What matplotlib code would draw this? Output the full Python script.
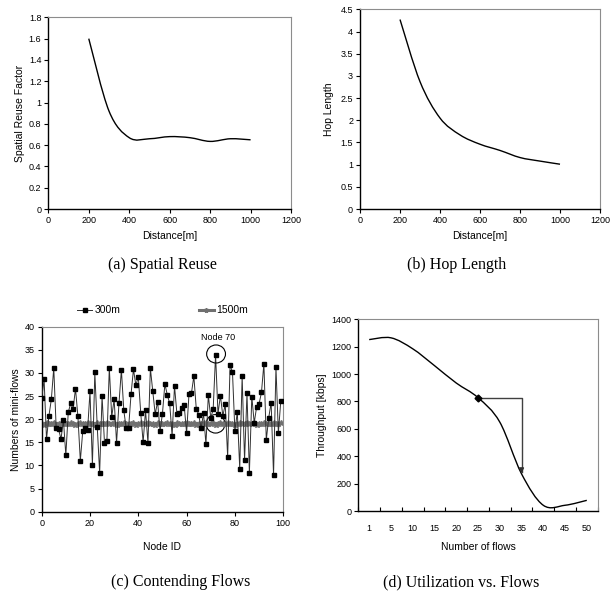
"""Four-panel figure: spatial reuse, hop length, contending flows, utilization."""

import matplotlib
matplotlib.use("Agg")
import matplotlib.pyplot as plt
import numpy as np
from matplotlib.path import Path
from matplotlib.patches import PathPatch, Ellipse

plt.rcParams["font.family"] = ["Liberation Sans", "DejaVu Sans"]
plt.rcParams["font.size"] = 6.5

TICK_FS = 6.5
LABEL_FS = 7.5

# (a) spatial reuse
dist = [200, 300, 400, 500, 600, 700, 800, 900, 1000]
reuse = [1.6, 0.92, 0.67, 0.66, 0.68, 0.67, 0.635, 0.66, 0.65]

# (b) hop length
hops = [4.27, 2.87, 2.05, 1.67, 1.46, 1.32, 1.16, 1.08, 1.01]

# (c) contending mini-flows per node
node_id = list(range(100))
flows_300 = [
    24.5, 28.6, 15.7, 20.7, 24.3, 31.1, 18.1, 17.8, 15.7, 19.8,
    12.2, 21.5, 23.4, 22.2, 26.6, 20.6, 11.0, 17.4, 18.0, 17.6,
    26.0, 10.1, 30.1, 18.4, 8.4, 25.0, 14.9, 15.3, 31.1, 20.5,
    24.3, 14.9, 23.4, 30.7, 21.9, 18.0, 18.2, 25.4, 30.8, 27.3,
    29.2, 21.4, 15.0, 21.9, 14.8, 31.0, 26.0, 21.1, 23.8, 17.4,
    21.2, 27.6, 25.3, 23.4, 16.4, 27.2, 21.1, 21.4, 22.4, 23.0,
    17.0, 25.5, 25.6, 29.3, 22.3, 21.0, 18.0, 21.3, 14.6, 25.2,
    20.3, 22.1, 33.9, 21.2, 25.1, 20.7, 23.2, 11.8, 31.8, 30.1,
    17.4, 21.6, 9.3, 29.3, 11.1, 25.6, 8.4, 24.9, 19.2, 22.7,
    23.3, 25.8, 32.0, 15.5, 20.3, 23.6, 7.9, 31.2, 17.0, 24.0,
]
flows_1500 = [
    19.0, 18.8, 19.1, 18.9, 19.0, 19.2, 18.8, 19.0, 18.9, 19.1,
    19.0, 18.9, 19.1, 19.0, 18.8, 19.0, 19.2, 18.9, 19.0, 19.1,
    18.9, 19.0, 18.8, 19.1, 19.0, 18.9, 19.0, 19.2, 18.9, 19.0,
    19.1, 18.8, 19.0, 18.9, 19.1, 19.0, 18.9, 19.0, 19.1, 18.8,
    19.0, 19.1, 18.9, 19.0, 19.2, 18.9, 19.0, 18.8, 19.1, 19.0,
    18.9, 19.0, 19.1, 18.9, 19.0, 18.8, 19.1, 19.0, 18.9, 19.0,
    19.2, 18.9, 19.0, 19.1, 18.8, 19.0, 18.9, 19.1, 19.0, 18.9,
    19.0, 19.1, 18.8, 19.0, 19.2, 18.9, 19.0, 19.1, 18.9, 19.0,
    18.8, 19.0, 19.1, 18.9, 19.0, 19.2, 18.9, 19.0, 19.1, 18.8,
    19.0, 18.9, 19.1, 19.0, 18.9, 19.0, 19.2, 18.9, 19.0, 19.1,
]

# (d) throughput vs number of flows (category axis)
flow_labels = ["1", "5", "10", "15", "20", "25", "30", "35", "40", "45", "50"]
throughput = [1252, 1265, 1185, 1062, 935, 828, 650, 272, 42, 42, 78]


def smooth_patch(x, y, **kw):
    """Excel-style smoothed line as a cubic Bezier path in data coords."""
    x = np.asarray(x, float)
    y = np.asarray(y, float)
    n = len(x)
    verts = [(x[0], y[0])]
    codes = [Path.MOVETO]
    for i in range(n - 1):
        i0 = max(i - 1, 0)
        i3 = min(i + 2, n - 1)
        c1 = (x[i] + (x[i + 1] - x[i0]) / 6, y[i] + (y[i + 1] - y[i0]) / 6)
        c2 = (x[i + 1] - (x[i3] - x[i]) / 6, y[i + 1] - (y[i3] - y[i]) / 6)
        verts += [c1, c2, (x[i + 1], y[i + 1])]
        codes += [Path.CURVE4] * 3
    return PathPatch(Path(verts, codes), fill=False, **kw)


def excel_axes(ax):
    for s in ("top", "right"):
        ax.spines[s].set_color("#8c8c8c")
        ax.spines[s].set_linewidth(0.8)
    for s in ("left", "bottom"):
        ax.spines[s].set_color("black")
        ax.spines[s].set_linewidth(1.0)
    ax.tick_params(axis="both", direction="out", length=3, width=0.8,
                   labelsize=TICK_FS, pad=2)


fig = plt.figure(figsize=(6.13, 5.94), dpi=100)

# ---- (a)
ax = fig.add_axes([0.0788, 0.6481, 0.396, 0.3227])
excel_axes(ax)
ax.add_patch(smooth_patch(dist, reuse, color="black", lw=1.0))
ax.set_xlim(0, 1200)
ax.set_ylim(0, 1.8)
ax.set_xticks(np.arange(0, 1201, 200))
ax.set_yticks(np.arange(0, 1.81, 0.2))
ax.set_yticklabels(["0", "0.2", "0.4", "0.6", "0.8", "1", "1.2", "1.4", "1.6", "1.8"])
ax.set_xlabel("Distance[m]", fontsize=LABEL_FS, labelpad=4)
ax.set_ylabel("Spatial Reuse Factor", fontsize=LABEL_FS, labelpad=3)

# ---- (b)
ax = fig.add_axes([0.5873, 0.6481, 0.3915, 0.3362])
excel_axes(ax)
ax.add_patch(smooth_patch(dist, hops, color="black", lw=1.0))
ax.set_xlim(0, 1200)
ax.set_ylim(0, 4.5)
ax.set_xticks(np.arange(0, 1201, 200))
ax.set_yticks(np.arange(0, 4.51, 0.5))
ax.set_yticklabels(["0", "0.5", "1", "1.5", "2", "2.5", "3", "3.5", "4", "4.5"])
ax.set_xlabel("Distance[m]", fontsize=LABEL_FS, labelpad=4)
ax.set_ylabel("Hop Length", fontsize=LABEL_FS, labelpad=5)

# ---- (c)
ax = fig.add_axes([0.068, 0.1386, 0.394, 0.3114])
excel_axes(ax)
ax.plot(node_id, flows_1500, color="#707070", lw=2.2, marker="*",
        ms=4, mec="#707070", mfc="#707070", label="1500m", zorder=2)
ax.plot(node_id, flows_300, color="#303030", lw=0.7, marker="s",
        ms=3.0, mec="black", mfc="black", label="300m", zorder=3)
ax.set_xlim(0, 100)
ax.set_ylim(0, 40)
ax.set_xticks(np.arange(0, 101, 20))
ax.set_yticks(np.arange(0, 41, 5))
ax.set_xlabel("Node ID", fontsize=LABEL_FS, labelpad=10)
ax.set_ylabel("Numbers of mini-flows", fontsize=LABEL_FS, labelpad=3)
ax.add_patch(Ellipse((72.2, 34.1), 7.8, 3.9, fill=False, color="black", lw=0.8, zorder=4))
ax.add_patch(Ellipse((72.0, 19.0), 7.8, 4.0, fill=False, color="black", lw=0.8, zorder=1))
ax.text(73, 37.6, "Node 70", ha="center", va="center", fontsize=6.5)
handles, labels = ax.get_legend_handles_labels()
ax.legend(handles[::-1], labels[::-1], loc="lower center", bbox_to_anchor=(0.5, 1.01),
          ncol=2, frameon=False, fontsize=7.5, columnspacing=7.5, handlelength=1.5,
          handletextpad=0.2, markerscale=0.9)

# ---- (d)
ax = fig.add_axes([0.5845, 0.1397, 0.3905, 0.3227])
excel_axes(ax)
cats = np.arange(len(flow_labels))
ax.add_patch(smooth_patch(cats, throughput, color="black", lw=1.0))
ax.set_xlim(-0.5, len(flow_labels) - 0.5)
ax.set_ylim(0, 1400)
ax.set_yticks(np.arange(0, 1401, 200))
ax.set_xticks(cats)
ax.set_xticklabels(flow_labels)
ax.set_xticks(np.arange(-0.5, len(flow_labels), 1), minor=True)
ax.tick_params(axis="x", which="major", length=0, pad=9)
ax.tick_params(axis="x", which="minor", direction="in", length=3, width=0.8)
ax.set_xlabel("Number of flows", fontsize=LABEL_FS, labelpad=7)
ax.set_ylabel("Throughput [kbps]", fontsize=LABEL_FS, labelpad=3)
# arrow from 25 flows to 35 flows
i25, i35 = flow_labels.index("25"), flow_labels.index("35")
ax.plot([cats[i25], cats[i35], cats[i35]], [throughput[i25], throughput[i25], 285],
        color="#404040", lw=1.0)
ax.plot(cats[i25], throughput[i25], marker="D", color="black", ms=3.5)
ax.annotate("", xy=(cats[i35], 255), xytext=(cats[i35], 320),
            arrowprops=dict(arrowstyle="-|>", color="#303030", lw=1.0,
                            mutation_scale=7))

# captions
cap = dict(fontsize=11.5, family=["Liberation Serif", "DejaVu Serif"],
           ha="center", va="center")
fig.text(162 / 613, 1 - 265 / 594, "(a) Spatial Reuse", **cap)
fig.text(457 / 613, 1 - 265 / 594, "(b) Hop Length", **cap)
fig.text(181 / 613, 1 - 582 / 594, "(c) Contending Flows", **cap)
fig.text(461 / 613, 1 - 582 / 594, "(d) Utilization vs. Flows", **cap)

fig.savefig("out.png", dpi=100)
